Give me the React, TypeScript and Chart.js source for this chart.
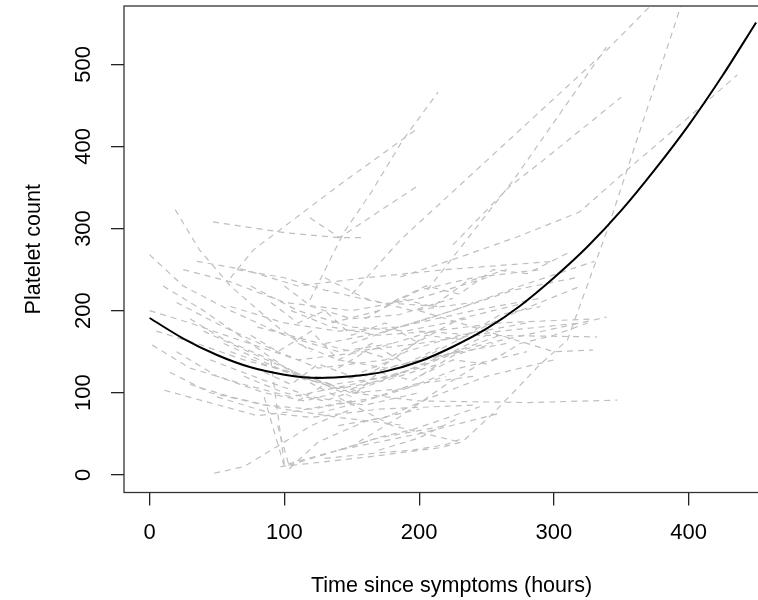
import { useEffect, useRef } from "react";
import { Chart, registerables } from "chart.js";

Chart.register(...registerables);

// Axis ticks
const xTicks = [0, 100, 200, 300, 400];
const yTicks = [0, 100, 200, 300, 400, 500];

// Fitted mean trajectory (quadratic in time)
const fitHours = [0, 25, 50, 75, 100, 125, 150, 175, 200, 225, 250, 275, 300, 325, 350, 375, 400, 425, 450];
const fitPlatelets = [191, 166, 146, 131, 122, 118, 120, 126, 138, 156, 178, 206, 240, 278, 322, 372, 426, 486, 551];

// Individual patient trajectories: hours since symptoms / platelet count
const patientHours: number[][] = [
  [19, 37, 60, 95, 120],
  [47, 100, 140, 158],
  [60, 77, 140, 199],
  [119, 144, 164, 188, 214],
  [119, 141, 198],
  [150, 186, 339, 380],
  [206, 270, 339],
  [225, 267, 292, 350],
  [186, 230, 273, 319, 354, 406, 436],
  [97, 163, 215, 232, 255, 290, 310, 340, 400],
  [171, 250, 339],
  [200, 243, 332],
  [150, 200, 280, 347],
  [200, 260, 300, 329],
  [130, 171, 210, 270, 319],
  [140, 171, 195, 245],
  [130, 171, 195, 220, 230],
  [0, 25, 60, 100, 140, 180],
  [0, 30, 65, 110, 160, 210],
  [2, 30, 70, 105, 150, 200, 250],
  [15, 45, 85, 120, 170, 220],
  [11, 40, 80, 110, 150],
  [20, 55, 95, 125, 175, 230, 280],
  [25, 60, 100, 150, 200, 250],
  [35, 70, 110, 160, 220, 300],
  [40, 80, 115, 150, 200, 260, 320],
  [45, 85, 120, 160, 200],
  [50, 90, 120, 170, 240],
  [55, 95, 135, 180, 230],
  [60, 100, 140, 185, 240, 290],
  [70, 100, 130, 165, 210, 260],
  [75, 110, 150, 190, 235],
  [80, 115, 150, 200, 260, 320],
  [85, 100, 130, 170, 220],
  [90, 100, 140, 200, 260],
  [95, 104, 125, 160, 200],
  [48, 70, 94, 120, 150],
  [105, 135, 170, 210, 260, 330],
  [110, 140, 175, 215, 265],
  [120, 150, 190, 230, 280],
  [125, 160, 195, 240],
  [130, 160, 195, 240],
  [135, 170, 200, 240, 290],
  [140, 175, 210, 250, 300],
  [10, 40, 75, 110, 145, 180, 230],
  [30, 60, 100, 140, 190],
  [65, 100, 130, 170, 215],
  [150, 185, 225, 275, 330],
  [160, 190, 230, 280],
  [5, 35, 70, 105, 135],
  [155, 185, 220, 250],
  [170, 200, 230],
  [20, 50, 85, 115, 150, 190],
  [30, 55, 90, 120, 160],
  [60, 85, 110, 140, 175, 215],
  [100, 120, 150, 185, 225],
  [75, 95, 120, 140, 165, 190, 215],
  [90, 110, 130, 150, 175, 200],
  [110, 130, 150, 170, 195, 225, 255],
  [140, 160, 180, 205, 230, 260, 290],
  [180, 205, 230, 255, 280, 310],
  [160, 185, 210, 235, 265],
  [200, 225, 250, 275, 300, 325],
  [85, 105, 125, 150, 180],
];

const patientPlatelets: number[][] = [
  [323, 274, 230, 180, 150],
  [308, 295, 289, 289],
  [240, 274, 352, 422],
  [213, 295, 343, 408, 466],
  [313, 289, 351],
  [220, 286, 517, 585],
  [225, 359, 521],
  [280, 351, 383, 460],
  [241, 265, 290, 320, 371, 444, 487],
  [10, 22, 33, 40, 75, 135, 164, 300, 600],
  [125, 160, 192],
  [175, 170, 168],
  [100, 90, 88, 91],
  [200, 170, 150, 152],
  [160, 173, 192, 225, 241],
  [30, 46, 55, 83],
  [20, 27, 30, 37, 43],
  [268, 230, 200, 170, 150, 160],
  [200, 185, 165, 140, 150, 175],
  [158, 130, 110, 95, 110, 130, 170],
  [125, 100, 85, 80, 95, 120],
  [103, 90, 72, 78, 90],
  [210, 180, 150, 130, 140, 190, 210],
  [250, 235, 210, 200, 215, 240],
  [260, 250, 230, 240, 250, 260],
  [175, 145, 120, 118, 140, 190, 230],
  [140, 115, 95, 85, 100],
  [95, 75, 70, 80, 85],
  [160, 130, 110, 120, 150],
  [205, 185, 175, 180, 200, 215],
  [120, 100, 90, 110, 140, 170],
  [230, 200, 180, 175, 190],
  [180, 165, 150, 160, 175, 185],
  [95, 10, 25, 45, 60],
  [140, 12, 30, 50, 75],
  [60, 8, 40, 65, 80],
  [2, 10, 34, 60, 80],
  [200, 180, 170, 175, 185, 190],
  [160, 140, 130, 145, 160],
  [115, 100, 105, 130, 150],
  [75, 90, 110, 120],
  [240, 215, 200, 210],
  [185, 200, 225, 240, 250],
  [60, 70, 95, 120, 140],
  [230, 200, 160, 120, 90, 60, 40],
  [110, 95, 80, 70, 60],
  [250, 240, 225, 210, 205],
  [160, 180, 200, 230, 260],
  [120, 150, 170, 185],
  [175, 160, 140, 125, 110],
  [40, 70, 110, 140],
  [30, 45, 70],
  [150, 120, 100, 90, 105, 125],
  [190, 165, 140, 115, 100],
  [150, 135, 120, 105, 115, 135],
  [230, 205, 190, 195, 215],
  [170, 150, 175, 140, 160, 135, 155],
  [210, 185, 200, 170, 185, 160],
  [90, 110, 95, 125, 115, 145, 160],
  [130, 150, 140, 170, 165, 195, 205],
  [210, 230, 220, 250, 245, 270],
  [190, 215, 205, 235, 250],
  [120, 140, 135, 160, 170, 185],
  [125, 110, 135, 120, 140],
];

const FONT = "'Liberation Sans', Arial, sans-serif";

// Full frame around the plotting region, drawn over the trajectories
const plotBox = {
  id: "plotBox",
  afterDatasetsDraw(chart: any) {
    const { ctx, chartArea } = chart;
    const { left, top, right, bottom } = chartArea;
    ctx.save();
    ctx.strokeStyle = "#333";
    ctx.lineWidth = 1.3;
    ctx.strokeRect(left, top, right - left, bottom - top);
    ctx.restore();
  },
};

export default function App() {
  const canvasRef = useRef<HTMLCanvasElement | null>(null);

  useEffect(() => {
    const canvas = canvasRef.current;
    if (!canvas) return;

    const fitData = fitHours.map((h, i) => ({ x: h, y: fitPlatelets[i] }));
    const patientSets = patientHours.map((hours, k) => ({
      label: `patient ${k + 1}`,
      data: hours.map((h, i) => ({ x: h, y: patientPlatelets[k][i] })),
      borderColor: "#bfbfbf",
      borderWidth: 1.2,
      borderDash: [6, 5],
      pointRadius: 0,
      tension: 0,
      fill: false,
    }));

    const chart = new Chart(canvas, {
      type: "line",
      data: {
        datasets: [
          {
            label: "fitted",
            data: fitData,
            borderColor: "#000",
            borderWidth: 2,
            pointRadius: 0,
            cubicInterpolationMode: "monotone",
            fill: false,
          } as any,
          ...patientSets,
        ],
      },
      options: {
        responsive: false,
        animation: false,
        devicePixelRatio: 1,
        layout: { padding: { top: 6, right: 11, left: 0, bottom: 0 } },
        plugins: {
          legend: { display: false },
          tooltip: { enabled: false },
        },
        scales: {
          x: {
            type: "linear",
            min: -19,
            max: 467,
            afterBuildTicks: (scale: any) => {
              scale.ticks = xTicks.map((v) => ({ value: v }));
            },
            afterFit: (scale: any) => {
              scale.height = 107.5;
              scale.paddingLeft = 0;
              scale.paddingRight = 0;
            },
            grid: {
              drawOnChartArea: false,
              drawTicks: true,
              tickLength: 13,
              color: "#222",
              lineWidth: 1.3,
            },
            border: { display: false },
            ticks: {
              color: "#000",
              font: { family: FONT, size: 22 },
              padding: 14.7,
              maxRotation: 0,
              autoSkip: false,
            },
            title: {
              display: true,
              text: "Time since symptoms (hours)",
              color: "#000",
              font: { family: FONT, size: 21.5 },
              padding: { top: 0, bottom: 1.1 },
            },
          },
          y: {
            type: "linear",
            min: -21.5,
            max: 571,
            afterBuildTicks: (scale: any) => {
              scale.ticks = yTicks.map((v) => ({ value: v }));
            },
            afterFit: (scale: any) => {
              scale.width = 124;
              scale.paddingTop = 0;
              scale.paddingBottom = 0;
            },
            grid: {
              drawOnChartArea: false,
              drawTicks: true,
              tickLength: 13,
              color: "#222",
              lineWidth: 1.3,
            },
            border: { display: false },
            ticks: {
              color: "#000",
              font: { family: FONT, size: 22 },
              padding: 8.6,
              minRotation: 90,
              maxRotation: 90,
              crossAlign: "center",
              autoSkip: false,
            },
            title: {
              display: true,
              text: "Platelet count",
              color: "#000",
              font: { family: FONT, size: 21.5 },
              padding: { top: 21.3, bottom: 0 },
            },
          },
        },
      },
      plugins: [plotBox],
    });

    return () => chart.destroy();
  }, []);

  return (
    <div
      style={{
        position: "absolute",
        left: 0,
        top: 0,
        width: 758,
        height: 600,
        overflow: "hidden",
        background: "#fff",
      }}
    >
      <canvas ref={canvasRef} width={790} height={600} style={{ display: "block" }} />
    </div>
  );
}
